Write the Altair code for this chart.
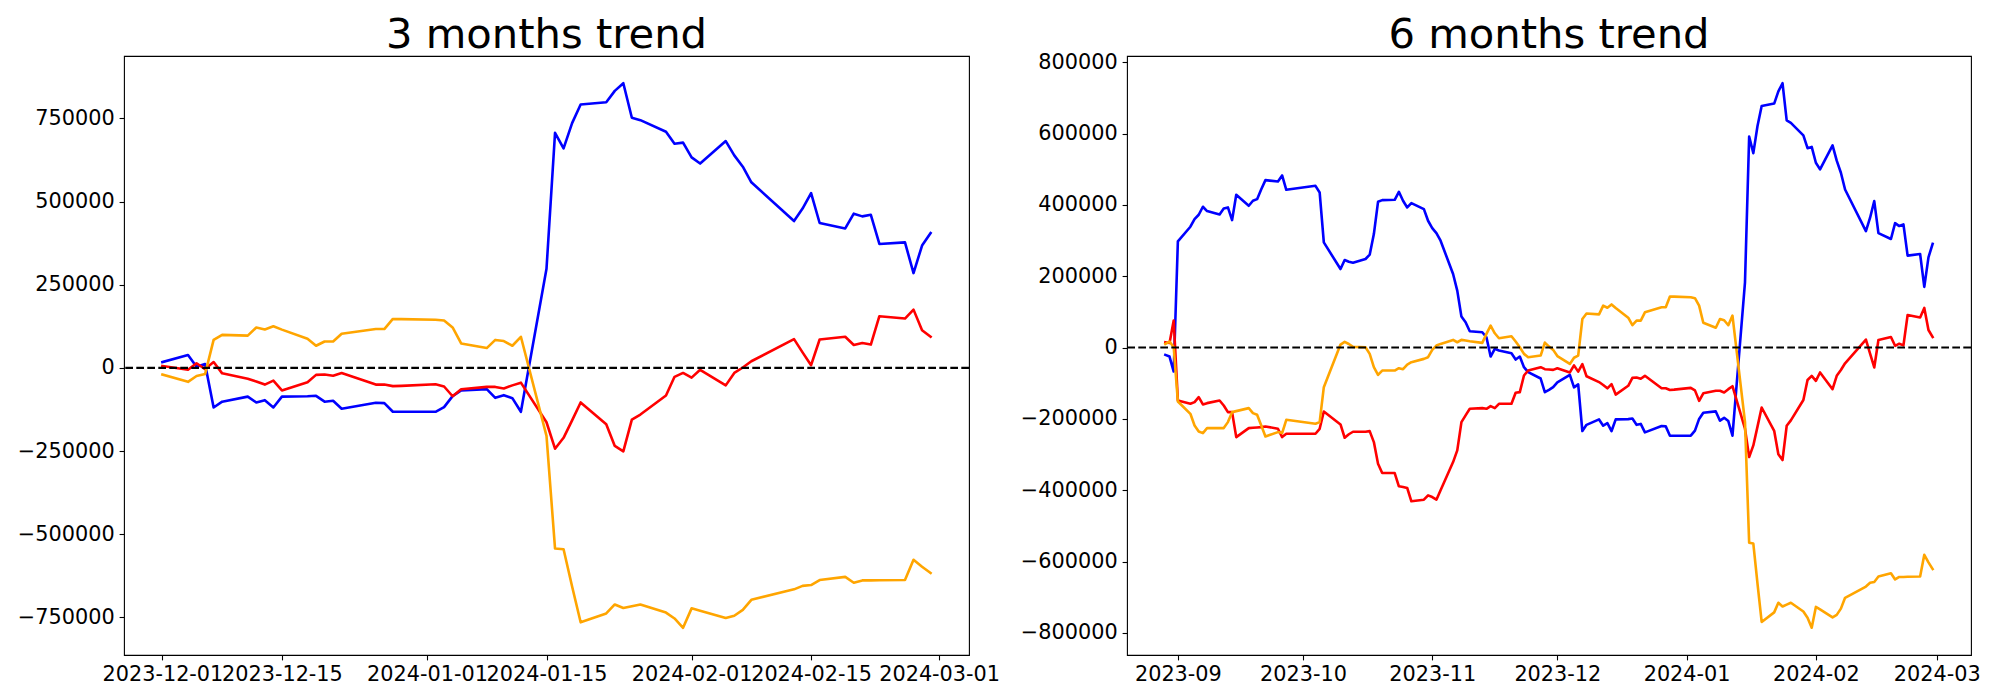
import altair as alt
import pandas as pd

# ---------------- 3 months trend ----------------
dates_3m = [
    "2023-12-01", "2023-12-04", "2023-12-05", "2023-12-06", "2023-12-07", "2023-12-08",
    "2023-12-11", "2023-12-12", "2023-12-13", "2023-12-14", "2023-12-15",
    "2023-12-18", "2023-12-19", "2023-12-20", "2023-12-21", "2023-12-22",
    "2023-12-26", "2023-12-27", "2023-12-28", "2023-12-29",
    "2024-01-02", "2024-01-03", "2024-01-04", "2024-01-05",
    "2024-01-08", "2024-01-09", "2024-01-10", "2024-01-11", "2024-01-12",
    "2024-01-15", "2024-01-16", "2024-01-17", "2024-01-18", "2024-01-19",
    "2024-01-22", "2024-01-23", "2024-01-24", "2024-01-25", "2024-01-26",
    "2024-01-29", "2024-01-30", "2024-01-31", "2024-02-01", "2024-02-02",
    "2024-02-05", "2024-02-06", "2024-02-07", "2024-02-08",
    "2024-02-13", "2024-02-14", "2024-02-15", "2024-02-16",
    "2024-02-19", "2024-02-20", "2024-02-21", "2024-02-22", "2024-02-23",
    "2024-02-26", "2024-02-27", "2024-02-28", "2024-02-29",
]
blue_3m = [
    17500, 38500, 3500, 11700, -119000, -101600,
    -86400, -104000, -97000, -119000, -86400,
    -85500, -84000, -101600, -99000, -122700,
    -105000, -106000, -132000, -132000,
    -132000, -118000, -85000, -67800,
    -64000, -90000, -82000, -91000, -132000,
    298000, 706700, 660000, 736000, 792000,
    799000, 833000, 856000, 752000, 745000,
    710000, 674000, 677500, 633000, 614500,
    682000, 639000, 605000, 558000,
    441600, 479000, 525700, 435700,
    419400, 463800, 455600, 460300, 372700,
    377300, 285000, 368000, 405400,
]
red_3m = [
    5800, -5800, 14000, -3500, 17500, -16400,
    -32700, -40900, -50200, -38500, -67800,
    -43200, -21000, -19900, -23400, -15200,
    -50200, -50200, -54900, -54000,
    -49000, -56000, -85300, -64300,
    -57200, -57200, -61900, -52600, -44400,
    -163500, -243000, -210300, -157700, -104000,
    -169400, -234800, -251200, -155400, -140200,
    -83000, -26900, -15200, -29200, -5800,
    -52600, -15200, 1200, 19900,
    86400, 46700, 8200, 85300,
    93500, 68900, 74800, 70100, 155400,
    148400, 175200, 113300, 93500,
]
orange_3m = [
    -19900, -42000, -24500, -18700, 84100, 99300,
    97000, 121500, 115700, 125000, 115000,
    87600, 66600, 79400, 79400, 102800,
    116800, 116800, 147200, 146700,
    144900, 142500, 121500, 73600,
    59600, 84100, 80600, 66600, 93500,
    -204400, -543200, -545500, -657600, -765100,
    -738300, -711400, -721900, -716600, -711400,
    -735900, -753500, -781500, -723100, -730100,
    -752300, -745300, -727800, -697400,
    -665900, -655400, -653000, -637900,
    -628500, -646000, -639000, -639000, -638500,
    -637900, -577100, -598100, -616800,
]

# ---------------- 6 months trend ----------------
dates_sep_nov = [
    "2023-08-29", "2023-08-30", "2023-08-31", "2023-09-01",
    "2023-09-04", "2023-09-05", "2023-09-06", "2023-09-07", "2023-09-08",
    "2023-09-11", "2023-09-12", "2023-09-13", "2023-09-14", "2023-09-15",
    "2023-09-18", "2023-09-19", "2023-09-20", "2023-09-21", "2023-09-22",
    "2023-09-25", "2023-09-26", "2023-09-27",
    "2023-10-04", "2023-10-05", "2023-10-06",
    "2023-10-10", "2023-10-11", "2023-10-12", "2023-10-13",
    "2023-10-16", "2023-10-17", "2023-10-18", "2023-10-19", "2023-10-20",
    "2023-10-23", "2023-10-24", "2023-10-25", "2023-10-26", "2023-10-27",
    "2023-10-30", "2023-10-31", "2023-11-01", "2023-11-02", "2023-11-03",
    "2023-11-06", "2023-11-07", "2023-11-08", "2023-11-09", "2023-11-10",
    "2023-11-13", "2023-11-14", "2023-11-15", "2023-11-16", "2023-11-17",
    "2023-11-20", "2023-11-21", "2023-11-22", "2023-11-23", "2023-11-24",
    "2023-11-27", "2023-11-28", "2023-11-29", "2023-11-30",
]
dates_6m = dates_sep_nov + dates_3m

blue_6m = [
    -20500, -25200, -67200, 297600,
    338700, 360000, 372300, 394700, 382600,
    373200, 390000, 392800, 357300, 428200,
    397500, 411500, 416100, 444000, 469300,
    465600, 482400, 442200,
    453400, 434800, 294800,
    220200, 245400, 240700, 238000,
    248200, 260300, 318200, 408600, 413300,
    414200, 436600, 411500, 392800, 404900,
    388100, 355500, 335000, 321000, 299500,
    206200, 159500, 86800, 70900, 45700,
    42900, 28900, -25200, -3700, -8400,
    -15900, -33600, -25200, -55000, -69000,
    -86800, -125000, -118500, -111000,
    -97500, -76500, -111500, -103300, -234000, -216600,
    -201400, -219000, -212000, -234000, -201400,
    -200500, -199000, -216600, -214000, -237700,
    -220000, -221000, -247000, -247000,
    -247000, -233000, -200000, -182800,
    -179000, -205000, -197000, -206000, -247000,
    183000, 591700, 545000, 621000, 677000,
    684000, 718000, 741000, 637000, 630000,
    595000, 559000, 562500, 518000, 499500,
    567000, 524000, 490000, 443000,
    326600, 364000, 410700, 320700,
    304400, 348800, 340600, 345300, 257700,
    262300, 170000, 253000, 290400,
]
red_6m = [
    14900, 13000, 75600, -148300,
    -157700, -153000, -139000, -159500, -155800,
    -148300, -162300, -181000, -181000, -251000,
    -225800, -224900, -224000, -223000, -221100,
    -227700, -251000, -241600,
    -241600, -227700, -179100,
    -215500, -252800, -243000, -236000,
    -236000, -234200, -265000, -325600, -351700,
    -351700, -389000, -391000, -393700, -431000,
    -426400, -414300, -419000, -426400, -400000,
    -321000, -288300, -209000, -190000, -171600,
    -169800, -171600, -164200, -169800, -157700,
    -157700, -126900, -125000, -78400, -64400,
    -55000, -60600, -61500, -62500,
    -58200, -69800, -50000, -67500, -46500, -80400,
    -96700, -104900, -114200, -102500, -131800,
    -107200, -85000, -83900, -87400, -79200,
    -114200, -114200, -118900, -118000,
    -113000, -120000, -149300, -128300,
    -121200, -121200, -125900, -116600, -108400,
    -227500, -307000, -274300, -221700, -168000,
    -233400, -298800, -315200, -219400, -204200,
    -147000, -90900, -79200, -93200, -69800,
    -116600, -79200, -62800, -44100,
    22400, -17300, -55800, 21300,
    29500, 4900, 10800, 6100, 91400,
    84400, 111200, 49300, 29500,
]
orange_6m = [
    10300, 16800, 900, -151100,
    -185700, -218300, -235100, -239800, -225800,
    -225800, -225800, -209000, -181000, -178200,
    -169800, -183800, -188500, -218300, -249100,
    -237000, -239800, -202500,
    -213700, -209000, -111000,
    8400, 15900, 10000, 2000,
    900, -17700, -55000, -76500, -64400,
    -64400, -57800, -60600, -47600, -41100,
    -31700, -27100, -6500, 5600, 10300,
    21500, 14900, 21500, 19600, 17700,
    13100, 38300, 61600, 40100, 26100,
    31700, 16800, 900, -17700, -27100,
    -22400, 14000, 2800, -6500,
    -23900, -46000, -28500, -22700, 80100, 95300,
    93000, 117500, 111700, 121000, 111000,
    83600, 62600, 75400, 75400, 98800,
    112800, 112800, 143200, 142700,
    140900, 138500, 117500, 69600,
    55600, 80100, 76600, 62600, 89500,
    -208400, -547200, -549500, -661600, -769100,
    -742300, -715400, -725900, -720600, -715400,
    -739900, -757500, -785500, -727100, -734100,
    -756300, -749300, -731800, -701400,
    -669900, -659400, -657000, -641900,
    -632500, -650000, -643000, -643000, -642500,
    -641900, -581100, -602100, -620800,
]

x_ticks_3m = ["2023-12-01", "2023-12-15", "2024-01-01", "2024-01-15",
              "2024-02-01", "2024-02-15", "2024-03-01"]
x_ticks_6m = ["2023-09-01", "2023-10-01", "2023-11-01", "2023-12-01",
              "2024-01-01", "2024-02-01", "2024-03-01"]
y_ticks_3m = [-750000, -500000, -250000, 0, 250000, 500000, 750000]
y_ticks_6m = [-800000, -600000, -400000, -200000, 0, 200000, 400000, 600000, 800000]

series_colors = [("blue", "#0000ff"), ("red", "#ff0000"), ("orange", "#ffa500")]
FONT = "DejaVu Sans"
PLOT_H = 599


def dt(s, h=0, mi=0):
    y, m, d = map(int, s.split("-"))
    return alt.DateTime(year=y, month=m, date=d, hours=h, minutes=mi, utc=True)


def panel(dates, b, r, o, title, xticks, xfmt, xdom, yticks, ydom, width):
    df = pd.DataFrame({"date": dates, "blue": b, "red": r, "orange": o})
    xenc = alt.X(
        "date:T",
        scale=alt.Scale(type="utc", domain=xdom, nice=False),
        axis=alt.Axis(values=[dt(t) for t in xticks], format=xfmt, title=None,
                      labelOverlap=False, labelFlush=False, labelBound=False,
                      labelAngle=0),
    )
    yscale = alt.Scale(domain=ydom, nice=False, zero=False)
    yaxis = alt.Axis(values=yticks, format="d", title=None)
    layers = []
    for name, color in series_colors:
        layers.append(
            alt.Chart(df).mark_line(color=color, strokeWidth=2.6, strokeJoin="round",
                                    strokeCap="square", clip=True)
            .encode(x=xenc, y=alt.Y(f"{name}:Q", scale=yscale, axis=yaxis))
        )
    zero = alt.Chart(pd.DataFrame({"y": [0]})).mark_rule(
        color="black", strokeDash=[7.7, 3.3], strokeWidth=2.1
    ).encode(y=alt.Y("y:Q", scale=yscale, axis=yaxis))
    layers.append(zero)
    head = alt.Chart(pd.DataFrame({"t": [title]})).mark_text(
        font=FONT, fontSize=41.7, color="black", align="center", baseline="alphabetic"
    ).encode(text="t:N", x=alt.value(width / 2), y=alt.value(-8.3))
    layers.append(head)
    return alt.layer(*layers).properties(width=width, height=PLOT_H)


left = panel(dates_3m, blue_3m, red_3m, orange_3m, "3 months trend", x_ticks_3m, "%Y-%m-%d",
             [dt("2023-11-26", 12), dt("2024-03-04", 12)], y_ticks_3m, [-863375, 937875], 845)
right = panel(dates_6m, blue_6m, red_6m, orange_6m, "6 months trend", x_ticks_6m, "%Y-%m",
              [dt("2023-08-19", 19, 12), dt("2024-03-09", 4, 48)], y_ticks_6m, [-861825, 817325], 844)

chart = (
    alt.hconcat(left, right, spacing=158, bounds="flush")
    .properties(padding={"left": 8, "top": 6, "right": 5, "bottom": 5})
    .configure_view(stroke="black", strokeWidth=1.1)
    .configure_axis(grid=False, domain=False, labelFont=FONT, labelFontSize=20.8,
                    labelColor="black", tickColor="black", tickSize=4.9, tickWidth=1.1,
                    labelPadding=4.9)
)

chart.save("out.html", embed_options={"renderer": "svg", "actions": False})
